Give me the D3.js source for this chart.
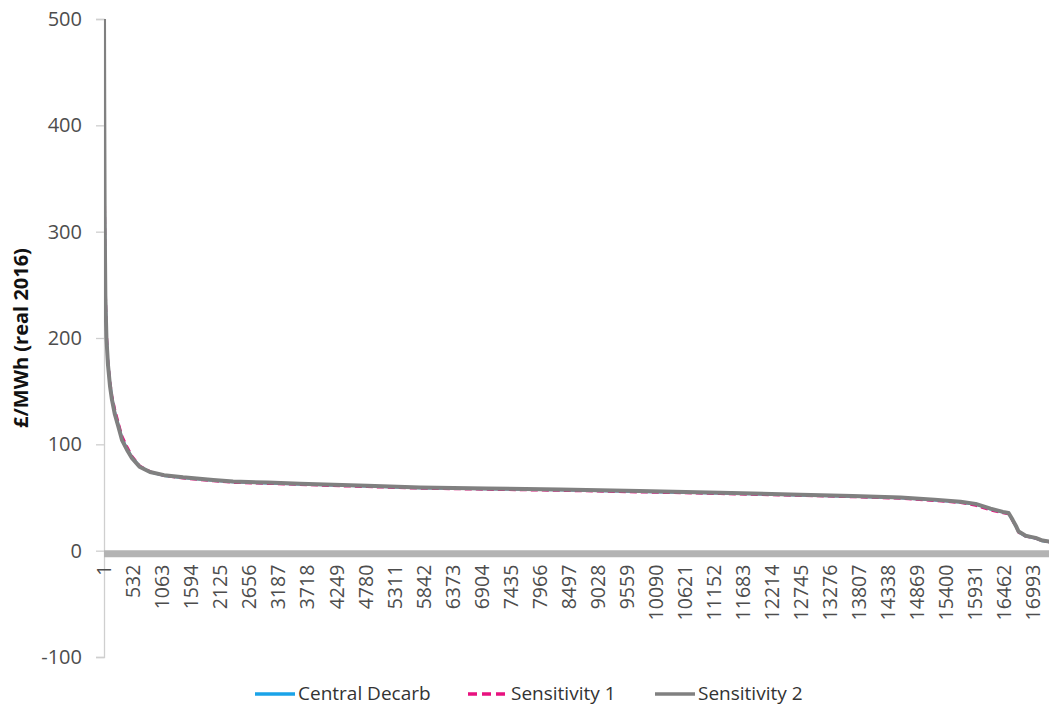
<!DOCTYPE html>
<html>
<head>
<meta charset="utf-8">
<script src="https://cdn.jsdelivr.net/npm/d3@7"></script>
<style>
  html, body { margin: 0; padding: 0; background: #fff; }
  svg { display: block; }
  text { font-family: "Open Sans", "Noto Sans", sans-serif; }
</style>
</head>
<body>
<svg id="chart" width="1049" height="706"></svg>
<script>
// ---- data (hour rank of the duration curve, £/MWh) ----
const hours = [1,5,12,25,45,73,110,146,200,256,330,420,513,650,842,1100,1447,2000,2362,3000,3589,4816,5786,7000,8350,9800,11280,12745,13700,14576,15200,15675,15950,16224,16450,16553,16627,16700,16737,16865,16960,17048,17176,17304,17520];
const centralDecarb = [500,440,330,250,205,178,158,144,130,120,106,96,88,79.5,74,70.5,68.5,66,64.5,63.5,62.5,60.5,59,58,57,55.5,54,52.2,51,49.5,47.5,45.5,43.5,39,36,35,28.5,21.5,17.5,13.5,12.5,11.5,9,8,6.5];
const sensitivity1 = [500,450,345,255,210,180,160,146,133,122,108,98,89,80,74.5,70.5,68,65.5,64,63,62,60,58.5,57.5,56.5,55,53.5,51.7,50.5,49,47,45,42.5,38,35.5,34.5,28,21,17,13.5,12.5,11.5,9,8,6.5];
const sensitivity2 = [500,420,320,240,200,175,155,142,128,118,104,95,87,79,74,71,69,66.5,65,64,63,61,59.5,58.5,57.5,56,54.5,52.7,51.5,50,48,46,44,39.5,36.5,35.5,29,22,18,14,13,12,9.5,8.5,7];
const totalHours = 17520;
const yTicks = [-100, 0, 100, 200, 300, 400, 500];
const xTickLabels = [1,532,1063,1594,2125,2656,3187,3718,4249,4780,5311,5842,6373,6904,7435,7966,8497,9028,9559,10090,10621,11152,11683,12214,12745,13276,13807,14338,14869,15400,15931,16462,16993];
const seriesNames = ["Central Decarb", "Sensitivity 1", "Sensitivity 2"];
const yTitle = "£/MWh (real 2016)";

// ---- layout ----
const svg = d3.select("#chart");
const plotLeft = 104, plotTop = 19, plotBottom = 657;
const plotRight = 104 + totalHours * 0.05465;

const x = d3.scaleLinear().domain([0.5, totalHours + 0.5]).range([plotLeft, plotRight]);
const y = d3.scaleLinear().domain([-100, 500]).range([plotBottom, plotTop]);

const styles = [
  { color: "#1AA3E8", width: 2.5, dash: null },
  { color: "#E8117F", width: 2.5, dash: "7,4" },
  { color: "#808080", width: 4, dash: null }
];
const series = [centralDecarb, sensitivity1, sensitivity2];

// y axis
const yAxis = d3.axisLeft(y).tickValues(yTicks).tickSize(8).tickPadding(14).tickFormat(d => String(d));
const gy = svg.append("g").attr("transform", `translate(${plotLeft},0)`).call(yAxis);
gy.select(".domain").attr("stroke", "#CFCFCF").attr("stroke-width", 1.3);
gy.selectAll(".tick line").attr("stroke", "#CFCFCF").attr("stroke-width", 1.3);
gy.selectAll(".tick text").attr("fill", "#4D4D4D").style("font-size", "20px");

// y title
svg.append("text")
  .attr("transform", `translate(28,338) rotate(-90)`)
  .attr("text-anchor", "middle")
  .style("font-size", "20px").style("font-weight", "bold").attr("fill", "#111")
  .text(yTitle);

// zero axis (thick category axis line)
svg.append("line")
  .attr("x1", plotLeft).attr("x2", 1049)
  .attr("y1", y(0) + 3).attr("y2", y(0) + 3)
  .attr("stroke", "#B3B3B3").attr("stroke-width", 7);

// x axis labels
const xAxis = d3.axisBottom(x).tickValues(xTickLabels).tickSize(0).tickFormat(d => String(d));
const gx = svg.append("g").attr("transform", `translate(0,${y(0)})`).call(xAxis);
gx.select(".domain").remove();
gx.selectAll(".tick text")
  .attr("transform", "rotate(-90)")
  .attr("text-anchor", "end")
  .attr("x", -14).attr("y", 0).attr("dy", "0.35em")
  .attr("fill", "#4D4D4D").style("font-size", "19.5px");

// lines
svg.append("clipPath").attr("id", "plotclip")
  .append("rect").attr("x", plotLeft).attr("y", plotTop - 1).attr("width", 1049 - plotLeft).attr("height", plotBottom - plotTop + 2);

const line = d3.line().x((d, i) => x(hours[i])).y(d => y(d));
const plot = svg.append("g").attr("clip-path", "url(#plotclip)");
series.forEach((vals, k) => {
  plot.append("path")
    .datum(vals)
    .attr("d", line)
    .attr("fill", "none")
    .attr("stroke", styles[k].color)
    .attr("stroke-width", styles[k].width)
    .attr("stroke-dasharray", styles[k].dash)
    .attr("stroke-linejoin", "round");
});

// legend
const legendItems = [
  { x1: 255, x2: 295, tx: 298 },
  { x1: 468, x2: 507, tx: 511 },
  { x1: 655, x2: 695, tx: 698 }
];
const lg = svg.append("g");
legendItems.forEach((it, k) => {
  lg.append("line")
    .attr("x1", it.x1).attr("x2", it.x2).attr("y1", 694).attr("y2", 694)
    .attr("stroke", styles[k].color).attr("stroke-width", 3.5)
    .attr("stroke-dasharray", k === 1 ? "9,5" : null);
  lg.append("text")
    .attr("x", it.tx).attr("y", 700)
    .style("font-size", "19px").attr("fill", "#333")
    .text(seriesNames[k]);
});
</script>
</body>
</html>
